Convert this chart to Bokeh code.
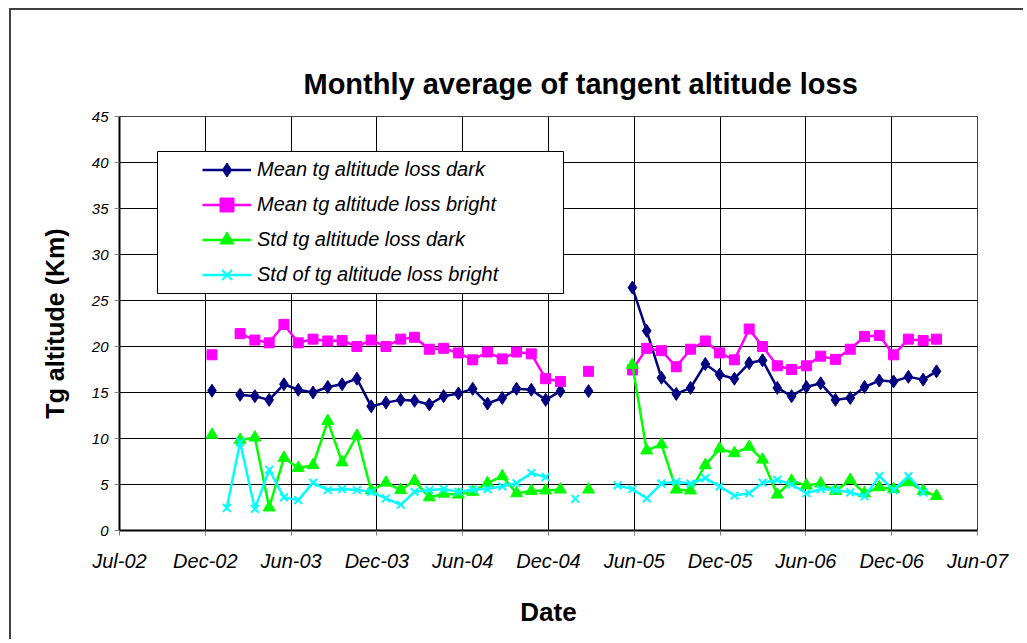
import pandas as pd
from datetime import datetime, timedelta
from bokeh.plotting import figure
from bokeh.models import Range1d, FixedTicker, Legend, LegendItem, BoxAnnotation, ColumnDataSource
from bokeh.embed import file_html
from bokeh.resources import INLINE

nan = float("nan")

months = [
    "2003-01", "2003-02", "2003-03", "2003-04", "2003-05", "2003-06", "2003-07", "2003-08", "2003-09", "2003-10", "2003-11", "2003-12",
    "2004-01", "2004-02", "2004-03", "2004-04", "2004-05", "2004-06", "2004-07", "2004-08", "2004-09", "2004-10", "2004-11", "2004-12",
    "2005-01", "2005-02", "2005-03", "2005-04", "2005-05", "2005-06", "2005-07", "2005-08", "2005-09", "2005-10", "2005-11", "2005-12",
    "2006-01", "2006-02", "2006-03", "2006-04", "2006-05", "2006-06", "2006-07", "2006-08", "2006-09", "2006-10", "2006-11", "2006-12",
    "2007-01", "2007-02", "2007-03",
]

mean_dark = [
    15.2, nan, 14.75, 14.6, 14.2, 15.9, 15.3, 15.0, 15.6, 15.9, 16.5, 13.5,
    13.9, 14.2, 14.1, 13.7, 14.6, 14.9, 15.4, 13.8, 14.4, 15.4, 15.3, 14.2,
    15.15, nan, 15.15, nan, nan, 26.4, 21.7, 16.6, 14.85, 15.5, 18.1, 16.95,
    16.5, 18.2, 18.5, 15.5, 14.6, 15.6, 16.0, 14.2, 14.4, 15.6, 16.3, 16.2,
    16.7, 16.4, 17.3,
]
mean_bright = [
    19.1, nan, 21.4, 20.7, 20.4, 22.4, 20.4, 20.8, 20.6, 20.65, 20.0, 20.7,
    20.0, 20.8, 21.0, 19.7, 19.8, 19.3, 18.55, 19.4, 18.65, 19.4, 19.2, 16.5,
    16.2, nan, 17.3, nan, nan, 17.45, 19.8, 19.55, 17.8, 19.7, 20.6, 19.3,
    18.55, 21.9, 20.0, 17.9, 17.5, 17.9, 18.95, 18.6, 19.7, 21.1, 21.2, 19.1,
    20.8, 20.65, 20.8,
]
std_dark = [
    10.4, nan, 9.85, 10.1, 2.5, 7.9, 6.8, 7.1, 11.9, 7.4, 10.3, 4.35,
    5.2, 4.4, 5.4, 3.6, 4.0, 3.9, 4.2, 5.15, 5.9, 4.05, 4.3, 4.35,
    4.45, nan, 4.45, nan, nan, 18.0, 8.7, 9.35, 4.45, 4.35, 7.1, 8.9,
    8.4, 9.1, 7.7, 3.9, 5.4, 4.9, 5.1, 4.3, 5.5, 4.05, 4.7, 4.5,
    5.25, 4.3, 3.75,
]
std_bright = [
    nan, 2.45, 9.6, 2.35, 6.6, 3.6, 3.3, 5.2, 4.4, 4.5, 4.4, 4.2,
    3.5, 2.8, 4.2, 4.4, 4.5, 4.2, 4.45, 4.5, 4.8, 5.15, 6.25, 5.8,
    nan, 3.45, nan, nan, 4.9, 4.5, 3.5, 5.1, 5.3, 5.1, 5.7, 4.8,
    3.8, 4.05, 5.2, 5.5, 5.0, 4.05, 4.5, 4.4, 4.15, 3.7, 5.9, 4.4,
    5.9, 4.15, nan,
]

series_labels = [
    "Mean tg altitude loss dark",
    "Mean tg altitude loss bright",
    "Std tg altitude loss dark",
    "Std of tg altitude loss bright",
]
x_tick_labels = ["Jul-02", "Dec-02", "Jun-03", "Dec-03", "Jun-04", "Dec-04",
                 "Jun-05", "Dec-05", "Jun-06", "Dec-06", "Jun-07"]
y_ticks = [0, 5, 10, 15, 20, 25, 30, 35, 40, 45]

FONT = "Liberation Sans"

dates = pd.to_datetime([m + "-11" for m in months])
src = ColumnDataSource(dict(x=dates, a=mean_dark, b=mean_bright, c=std_dark, d=std_bright))

axis_start = datetime(2002, 7, 1)
tick_dates = [axis_start + timedelta(days=180 * i) for i in range(len(x_tick_labels))]
tick_ms = [(d - datetime(1970, 1, 1)).total_seconds() * 1000.0 for d in tick_dates]

# canvas origin sits at page (11, 10) because of margin + 2px chart-area border
p = figure(width=1014, height=631, x_axis_type="datetime",
           x_range=Range1d(tick_dates[0], tick_dates[-1]), y_range=Range1d(0, 45),
           output_backend="svg", toolbar_location=None,
           min_border_left=108, min_border_right=48, min_border_top=106, min_border_bottom=111,
           title="Monthly average of tangent altitude loss")
p.margin = (8, 0, 0, 9)
p.styles = {"border-left": "2px solid #404040", "border-top": "2px solid #404040"}

p.title.text_font = FONT
p.title.text_font_size = "29px"
p.title.text_font_style = "bold"
p.title.text_color = "#000000"
p.title.align = "left"
p.title.offset = 184
p.title.standoff = 33

p.outline_line_color = "#404040"
p.outline_line_width = 1

p.xaxis.ticker = FixedTicker(ticks=tick_ms)
p.xaxis.major_label_overrides = {t: lab for t, lab in zip(tick_ms, x_tick_labels)}
p.yaxis.ticker = FixedTicker(ticks=y_ticks)
p.xgrid.ticker = FixedTicker(ticks=tick_ms)
p.ygrid.ticker = FixedTicker(ticks=y_ticks)
for g in (p.xgrid, p.ygrid):
    g.grid_line_color = "#000000"
    g.grid_line_width = 1

for ax in (p.xaxis, p.yaxis):
    ax.axis_line_color = "#000000"
    ax.axis_line_width = 2
    ax.major_tick_line_color = "#808080"
    ax.major_tick_in = 0
    ax.major_tick_out = 5
    ax.minor_tick_line_color = None
    ax.major_label_text_font = FONT
    ax.major_label_text_font_style = "italic"
    ax.major_label_text_color = "#000000"
    ax.axis_label_text_font = FONT
    ax.axis_label_text_font_style = "bold"
    ax.axis_label_text_color = "#000000"

p.xaxis.major_label_text_font_size = "20px"
p.xaxis.major_label_standoff = 14
p.xaxis.axis_label = "Date"
p.xaxis.axis_label_text_font_size = "26px"
p.xaxis.axis_label_standoff = 22

p.yaxis.major_label_text_font_size = "15px"
p.yaxis.major_label_standoff = 6
p.yaxis.axis_label = "Tg altitude (Km)"
p.yaxis.axis_label_text_font_size = "25px"
p.yaxis.axis_label_standoff = 20

colors = ["#000080", "#FF00FF", "#00FF00", "#00FFFF"]
fields = ["a", "b", "c", "d"]
markers = ["diamond", "square", "triangle", "x"]
sizes = [13, 10, 12, 11]

items = []
for f, col, mk, sz, lab in zip(fields, colors, markers, sizes, series_labels):
    lr = p.line("x", f, source=src, line_color=col, line_width=2.5)
    sr = p.scatter("x", f, source=src, marker=mk, size=sz, fill_color=col,
                   line_color=col, line_width=2 if mk == "x" else 1)
    items.append(LegendItem(label=lab, renderers=[lr, sr]))

# legend frame (canvas pixel units)
p.add_layout(BoxAnnotation(left=144, right=550, top=139, bottom=281,
                           left_units="canvas", right_units="canvas",
                           top_units="canvas", bottom_units="canvas",
                           fill_color="#FFFFFF", fill_alpha=1,
                           line_color="#000000", line_width=1, line_alpha=1))

legend = Legend(items=items, location=(83, 238), padding=0, spacing=0, margin=0,
                label_height=35, glyph_height=35, glyph_width=49, label_standoff=6,
                label_text_font=FONT, label_text_font_style="italic",
                label_text_font_size="20px", label_text_color="#000000",
                border_line_alpha=0, background_fill_alpha=0)
p.add_layout(legend, "center")

open("out.html", "w").write(file_html(p, INLINE))
